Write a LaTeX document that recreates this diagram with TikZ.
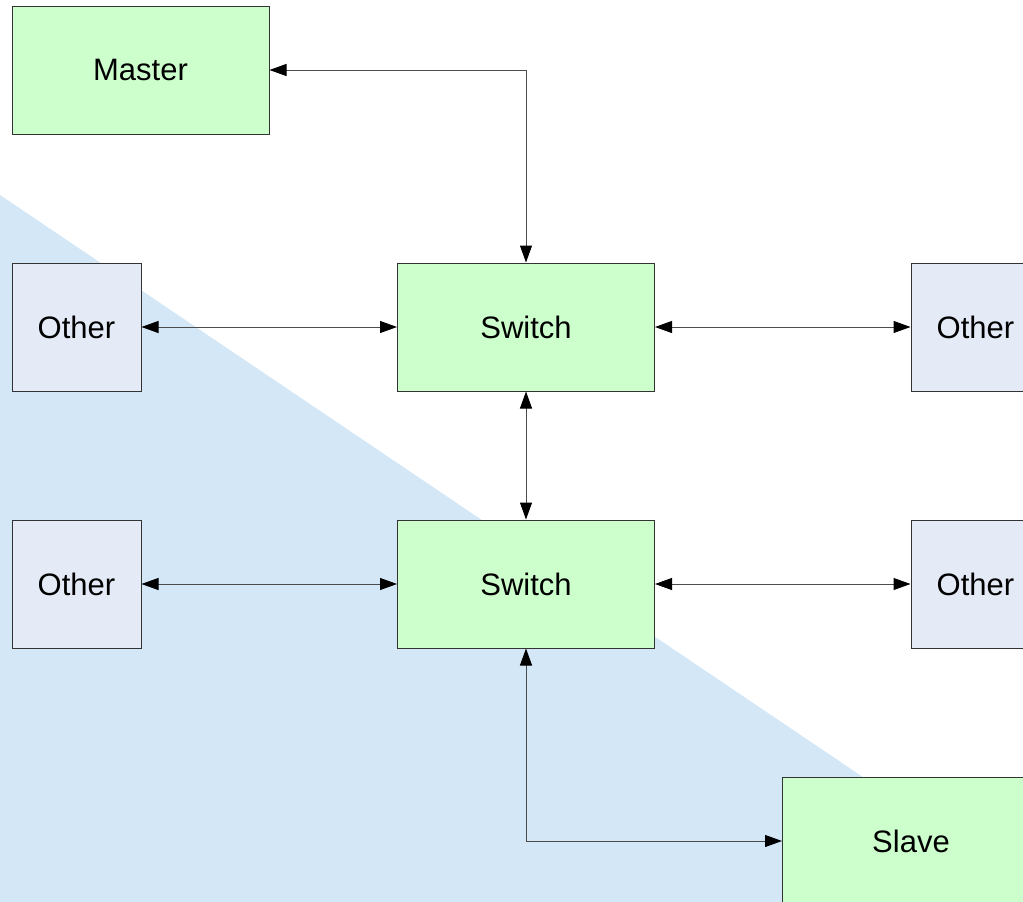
\documentclass[tikz,border=0pt]{standalone}
\usepackage{fontspec}
\setmainfont{Liberation Sans}
\usetikzlibrary{arrows.meta}
\definecolor{boxgreen}{HTML}{CCFFCC}
\definecolor{boxblue}{HTML}{E4EBF6}
\definecolor{bgblue}{HTML}{D3E7F6}
\definecolor{edgegray}{HTML}{333333}
\tikzset{
  green box/.style={draw=edgegray, line width=1pt, fill=boxgreen, minimum width=257pt, minimum height=128pt, inner sep=0pt, font=\fontsize{31}{36}\selectfont},
  other box/.style={draw=edgegray, line width=1pt, fill=boxblue, minimum width=129pt, minimum height=128pt, inner sep=0pt, font=\fontsize{31}{36}\selectfont},
  link/.style={draw=black!70, line width=1pt, {Triangle[length=17pt,width=12pt,color=black]}-{Triangle[length=17pt,width=12pt,color=black]}},
}
\begin{document}
\begin{tikzpicture}[x=1pt,y=-1pt]
\useasboundingbox (0,0) rectangle (1023,902);
\clip (0,0) rectangle (1023,902);
\fill[bgblue] (0,195) -- (1023,885) -- (1023,902) -- (0,902) -- cycle;
\node[green box] (master) at (140.5,70) {Master};
\node[green box] (sw1) at (526,327) {Switch};
\node[green box] (sw2) at (526,584) {Switch};
\node[other box] (ol1) at (76.5,327) {Other};
\node[other box] (ol2) at (76.5,584) {Other};
\node[other box] (or1) at (975.5,327) {Other};
\node[other box] (or2) at (975.5,584) {Other};
\node[green box] (slave) at (911,841) {Slave};
\draw[link] (master.east) -| (sw1.north);
\draw[link] (ol1.east) -- (sw1.west);
\draw[link] (sw1.east) -- (or1.west);
\draw[link] (sw1.south) -- (sw2.north);
\draw[link] (ol2.east) -- (sw2.west);
\draw[link] (sw2.east) -- (or2.west);
\draw[link] (sw2.south) |- (slave.west);
\end{tikzpicture}
\end{document}
